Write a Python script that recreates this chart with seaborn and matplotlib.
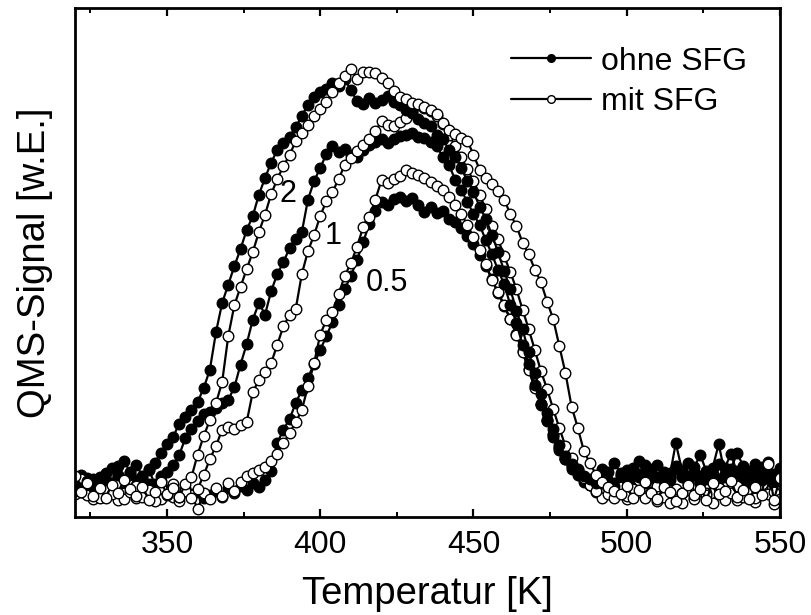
import numpy as np
import pandas as pd
import matplotlib
matplotlib.use("Agg")
import matplotlib.pyplot as plt
from matplotlib.lines import Line2D
import seaborn as sns

# Temperature grid [K]
temperature = list(range(320, 551, 2))

# QMS signal (arbitrary units)
ohne_2 = [
    6.5, 5.8, 7.2, 6.0, 8.1, 7.4, 9.8, 8.5, 11.2, 9.0,
    10.4, 8.2, 9.6, 10.8, 12.9, 14.6, 16.0, 18.7, 20.1, 21.5,
    23.0, 25.8, 29.5, 37.0, 42.8, 46.5, 50.2, 53.6, 57.4, 60.2,
    64.5, 67.8, 70.9, 73.4, 74.8, 76.1, 78.0, 80.2, 82.5, 84.0,
    85.1, 85.6, 86.8, 86.2, 87.6, 85.4, 83.2, 82.6, 83.9, 82.8,
    83.5, 84.2, 83.0, 82.4, 81.5, 80.9, 79.6, 78.9, 78.2, 76.5,
    75.6, 73.4, 72.0, 69.8, 67.2, 65.0, 62.1, 59.6, 56.5, 53.0,
    49.2, 45.6, 41.3, 37.6, 33.0, 28.9, 24.6, 20.8, 17.6, 14.5,
    12.2, 10.6, 9.5, 8.2, 7.6, 6.8, 8.4, 7.1, 6.2, 8.8,
    7.5, 9.2, 8.0, 6.9, 9.6, 8.1, 7.3, 8.9, 10.2, 8.4,
    7.0, 9.1, 8.3, 7.6, 9.8, 14.6, 8.6, 7.9, 9.3, 8.0,
    6.8, 8.7, 7.4, 9.0, 7.2, 8.1,
]
mit_2 = [
    8.2, 5.1, 6.8, 4.3, 5.9, 3.8, 6.5, 4.9, 7.4, 5.6,
    4.2, 6.1, 3.5, 5.0, 7.1, 4.6, 5.8, 4.0, 6.6, 8.0,
    12.5, 16.2, 19.4, 22.8, 27.0, 36.2, 42.4, 46.0, 49.6, 53.0,
    57.0, 60.5, 64.6, 67.6, 70.2, 72.4, 75.2, 76.8, 78.4, 80.2,
    81.6, 83.0, 85.1, 86.8, 88.2, 89.6, 87.5, 88.9, 89.0, 88.7,
    87.8, 86.9, 85.2, 84.0, 83.6, 82.9, 82.7, 82.1, 81.5, 80.6,
    78.9, 77.5, 76.6, 75.9, 75.3, 72.4, 69.5, 67.9, 66.7, 65.2,
    63.5, 60.6, 58.2, 54.9, 52.6, 49.5, 47.0, 43.1, 39.6, 34.2,
    28.8, 22.1, 17.9, 13.2, 10.8, 8.4, 7.1, 6.0, 5.3, 4.6,
    6.2, 3.9, 5.4, 7.1, 4.8, 3.6, 6.0, 5.1, 3.2, 4.9,
    6.4, 4.4, 5.7, 3.5, 6.8, 4.6, 5.2, 7.3, 4.1, 5.5,
    3.7, 6.0, 4.5, 10.6, 3.4, 7.8,
]
ohne_1 = [
    7.0, 8.4, 6.1, 7.7, 5.6, 8.9, 6.8, 10.2, 7.5, 8.8,
    6.4, 7.9, 9.5, 6.7, 8.3, 9.0, 10.5, 12.4, 15.8, 17.6,
    19.2, 20.6, 21.0, 21.8, 22.9, 23.4, 26.0, 30.5, 34.6, 39.5,
    42.8, 40.5, 45.2, 48.6, 51.0, 53.8, 55.6, 57.0, 63.5, 67.2,
    69.8, 72.6, 74.2, 73.0, 73.6, 72.4, 72.0, 73.5, 74.4, 75.0,
    75.6, 74.8, 75.6, 76.2, 76.5, 76.8, 76.0, 75.8, 75.0, 74.2,
    72.0, 70.4, 67.5, 65.4, 63.0, 60.6, 58.4, 55.4, 52.6, 49.4,
    46.6, 42.4, 38.8, 34.4, 30.6, 26.4, 22.6, 19.4, 16.0, 13.4,
    11.6, 9.6, 8.4, 7.0, 6.4, 5.8, 7.6, 9.0, 6.9, 8.2,
    9.4, 7.2, 8.6, 10.4, 7.8, 6.5, 8.9, 7.4, 9.7, 8.0,
    10.8, 8.5, 7.1, 9.3, 8.0, 7.7, 9.9, 12.6, 8.8, 7.5,
    9.2, 8.1, 10.0, 7.3, 8.6, 9.5,
]
mit_1 = [
    5.2, 7.6, 4.4, 6.3, 3.9, 5.5, 4.7, 6.9, 3.6, 5.0,
    6.2, 4.1, 5.4, 3.3, 5.9, 4.5, 6.6, 4.0, 5.3, 3.8,
    5.6, 8.4, 11.6, 14.2, 17.5, 18.1, 17.6, 18.4, 19.0, 25.0,
    27.4, 29.0, 30.8, 34.5, 38.2, 40.4, 41.6, 48.6, 53.2, 56.4,
    60.2, 63.2, 65.0, 67.6, 70.4, 71.8, 73.2, 74.4, 75.6, 77.2,
    79.2, 78.5, 78.2, 79.0, 79.8, 81.2, 82.4, 81.8, 81.2, 80.3,
    78.6, 76.5, 74.2, 72.0, 69.6, 67.2, 64.5, 61.6, 58.3, 55.6,
    52.2, 49.0, 45.6, 41.5, 37.6, 33.4, 29.2, 25.6, 21.6, 17.8,
    14.2, 11.8, 9.6, 7.9, 6.5, 5.2, 6.8, 4.6, 3.9, 6.1,
    4.3, 5.6, 7.4, 3.8, 5.0, 6.3, 4.1, 2.9, 5.7, 4.8,
    6.6, 3.7, 5.3, 4.4, 7.0, 5.8, 3.5, 4.9, 6.2, 4.0,
    5.5, 3.8, 6.7, 4.6, 5.1, 3.6,
]
ohne_05 = [
    6.8, 5.0, 7.9, 6.2, 4.8, 7.0, 5.6, 8.3, 6.4, 5.2,
    7.5, 5.9, 6.6, 4.7, 7.2, 5.4, 6.0, 4.3, 5.8, 4.6,
    5.1, 3.9, 4.5, 5.3, 4.0, 5.8, 4.9, 6.2, 5.4, 6.8,
    6.0, 7.4, 9.2, 14.8, 17.5, 19.6, 22.8, 25.4, 27.9, 30.6,
    33.4, 36.2, 39.0, 42.4, 45.6, 48.2, 51.4, 55.0, 58.6, 61.2,
    63.0, 62.4, 63.6, 64.0, 63.2, 63.8, 62.4, 61.0, 62.0, 60.8,
    61.2, 59.6, 59.0, 57.8, 56.2, 54.6, 52.4, 50.2, 47.6, 44.8,
    42.2, 39.6, 36.6, 33.2, 29.6, 26.0, 22.6, 19.2, 16.6, 13.8,
    11.6, 10.0, 8.8, 7.6, 6.9, 8.2, 9.6, 7.3, 10.8, 8.5,
    7.0, 9.8, 11.2, 8.4, 7.6, 10.5, 9.0, 8.1, 14.8, 9.4,
    8.2, 10.0, 12.4, 9.1, 8.6, 10.7, 8.0, 9.6, 12.8, 10.2,
    8.9, 10.6, 9.3, 11.0, 8.4, 9.8,
]
mit_05 = [
    4.6, 6.9, 5.3, 3.7, 6.0, 4.2, 5.5, 3.4, 4.9, 6.4,
    3.9, 5.7, 4.4, 6.5, 3.6, 5.0, 4.1, 3.2, 5.4, 4.5,
    1.6, 4.8, 3.6, 5.9, 4.3, 6.8, 5.2, 7.0, 8.2, 8.9,
    9.4, 10.0, 11.2, 12.6, 14.8, 16.8, 19.0, 21.4, 26.2, 30.8,
    36.5, 39.4, 41.0, 44.6, 48.2, 50.8, 54.0, 58.0, 60.0, 63.5,
    67.4, 66.8, 67.6, 68.2, 69.4, 68.9, 68.4, 67.8, 67.0, 66.2,
    65.4, 64.0, 62.4, 60.6, 58.4, 56.0, 53.4, 50.6, 47.4, 45.0,
    42.4, 39.6, 36.4, 33.0, 29.4, 25.8, 22.4, 19.4, 16.4, 14.0,
    11.8, 10.2, 9.0, 7.4, 6.4, 5.1, 3.8, 6.0, 4.4, 5.6,
    3.6, 7.2, 5.0, 4.2, 6.6, 3.3, 5.8, 8.0, 4.7, 2.8,
    5.4, 3.9, 6.9, 4.8, 2.9, 5.9, 4.3, 7.5, 3.4, 6.2,
    4.6, 3.1, 5.7, 8.1, 2.7, 5.2,
]

series = [
    ("ohne SFG", "0.5", ohne_05),
    ("mit SFG", "0.5", mit_05),
    ("ohne SFG", "1", ohne_1),
    ("mit SFG", "1", mit_1),
    ("ohne SFG", "2", ohne_2),
    ("mit SFG", "2", mit_2),
]
for _, _, v in series:
    assert len(v) == len(temperature), len(v)

coverage_labels = ["2", "1", "0.5"]
coverage_pos = [(389.5, 64.6), (404.2, 56.2), (421.8, 46.8)]
tick_values = [350, 400, 450, 500, 550]

sns.set_theme(style="ticks")
plt.rcParams["font.family"] = ["Liberation Sans", "DejaVu Sans"]
plt.rcParams["text.color"] = "black"

fig = plt.figure(figsize=(8.11, 6.15), dpi=100)
ax = fig.add_axes([0.0925, 0.1593, 0.8693, 0.8277])

for cond, cov, vals in series:
    df = pd.DataFrame({"T": temperature, "S": vals})
    face = "black" if cond == "ohne SFG" else "white"
    sns.lineplot(data=df, x="T", y="S", ax=ax, color="black", linewidth=1.6,
                 marker="o", markersize=7.6, markerfacecolor=face,
                 markeredgecolor="black", markeredgewidth=1.0, legend=False,
                 sort=False)

for lab, (tx, ty) in zip(coverage_labels, coverage_pos):
    ax.text(tx, ty, lab, fontsize=22, ha="center", va="center", color="black")

ax.set_xlim(320, 550)
ax.set_ylim(0, 101.8)
ax.set_xticks(tick_values)
ax.set_xticks([325, 375, 425, 475, 525], minor=True)
ax.set_yticks([])
ax.tick_params(axis="x", which="major", direction="in", length=6, width=1.6,
               labelsize=23, pad=9, top=True, color="black", labelcolor="black")
ax.tick_params(axis="x", which="minor", direction="in", length=3.5, width=1.4,
               top=True, color="black")
for sp in ax.spines.values():
    sp.set_linewidth(2.0)
    sp.set_color("black")
    sp.set_visible(True)

ax.set_xlabel("Temperatur [K]", fontsize=27.5, labelpad=12, color="black")
ax.set_ylabel("QMS-Signal [w.E.]", fontsize=27.5, labelpad=16, color="black")

handles = [
    Line2D([], [], color="black", linewidth=1.6, marker="o", markersize=5.5,
           markerfacecolor="black", markeredgecolor="black"),
    Line2D([], [], color="black", linewidth=1.6, marker="o", markersize=5.5,
           markerfacecolor="white", markeredgecolor="black", markeredgewidth=1.0),
]
leg = ax.legend(handles, ["ohne SFG", "mit SFG"], loc="upper right",
                bbox_to_anchor=(0.98, 0.962), frameon=False, fontsize=23,
                handlelength=2.5, handletextpad=0.3, labelspacing=0.32,
                borderaxespad=0.2)
for t in leg.get_texts():
    t.set_color("black")

fig.savefig("out.png", dpi=100)
